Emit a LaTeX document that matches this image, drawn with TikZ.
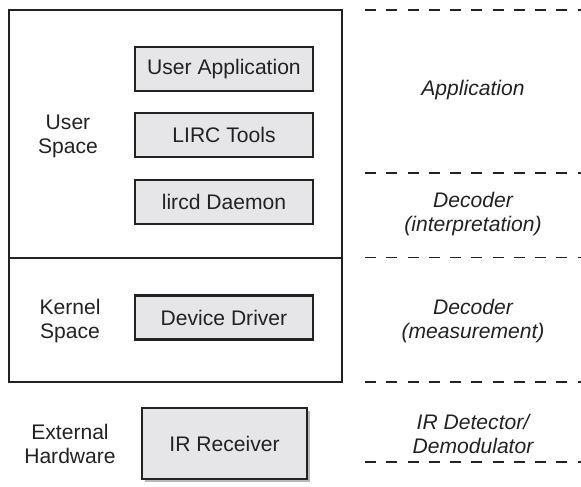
\documentclass[tikz,border=0pt]{standalone}
\usepackage{fontspec}
\setmainfont{Liberation Sans}
\usepackage{xcolor}
\usetikzlibrary{positioning,shadows,backgrounds}
\pgfdeclarelayer{edgelayer}
\pgfdeclarelayer{nodelayer}
\pgfsetlayers{background,edgelayer,nodelayer,main}
\definecolor{ink}{RGB}{34,34,34}
\definecolor{boxgray}{RGB}{230,230,232}
\tikzstyle{none}=[inner sep=0mm]
\tikzstyle{every picture}=[font=\fontsize{12}{13.6}\selectfont,text=ink]
\tikzstyle{box}=[draw=ink,line width=1.4pt,fill=boxgray,minimum width=3.56cm,minimum height=0.88cm,inner sep=0pt]
\tikzstyle{hw}=[box,minimum width=3.3cm,minimum height=1.42cm,drop shadow={shadow xshift=0.06cm,shadow yshift=-0.06cm,fill=black!55}]
\tikzstyle{lbl}=[align=center,inner sep=0pt]
\tikzstyle{layer}=[lbl,font=\fontsize{12}{13.6}\selectfont\itshape]
\tikzstyle{sep}=[draw=ink,line width=1.1pt,dash pattern=on 0.22cm off 0.205cm]
\tikzstyle{frame}=[draw=ink,line width=0.8pt]

\begin{document}
\begin{tikzpicture}
	\useasboundingbox (0, 0) rectangle (11.62, -9.74);
	\begin{pgfonlayer}{nodelayer}
		\node [style=box] (ua) at (4.48, -1.38) {User Application};
		\node [style=box] (lt) at (4.48, -2.7) {LIRC Tools};
		\node [style=box] (ld) at (4.48, -4.04) {lircd Daemon};
		\node [style=box] (dd) at (4.48, -6.35) {Device Driver};
		\node [style=hw] (ir) at (4.49, -8.87) {IR Receiver};
		\node [style=lbl] (us) at (1.36, -2.72) {User\\Space};
		\node [style=lbl] (ks) at (1.4, -6.42) {Kernel\\Space};
		\node [style=lbl] (eh) at (1.4, -8.88) {External\\Hardware};
		\node [style=layer] (app) at (9.46, -1.8) {Application};
		\node [style=layer] (di) at (9.46, -4.28) {Decoder\\(interpretation)};
		\node [style=layer] (dm) at (9.46, -6.42) {Decoder\\(measurement)};
		\node [style=layer] (det) at (9.46, -8.68) {IR Detector/\\Demodulator};
		\node [style=none] (s1a) at (7.3, -0.2) {};
		\node [style=none] (s1b) at (11.62, -0.2) {};
		\node [style=none] (s2a) at (7.3, -3.46) {};
		\node [style=none] (s2b) at (11.62, -3.46) {};
		\node [style=none] (s3a) at (7.3, -5.15) {};
		\node [style=none] (s3b) at (11.62, -5.15) {};
		\node [style=none] (s4a) at (7.3, -7.64) {};
		\node [style=none] (s4b) at (11.62, -7.64) {};
		\node [style=none] (s5a) at (7.3, -9.24) {};
		\node [style=none] (s5b) at (11.62, -9.24) {};
	\end{pgfonlayer}
	\begin{pgfonlayer}{edgelayer}
		\draw [style=frame] (0.18, -0.2) rectangle (6.84, -7.64);
		\draw [style=frame] (0.18, -5.16) -- (6.84, -5.16);
		\draw [style=sep] (s1a.center) to (s1b.center);
		\draw [style=sep] (s2a.center) to (s2b.center);
		\draw [style=sep] (s3a.center) to (s3b.center);
		\draw [style=sep] (s4a.center) to (s4b.center);
		\draw [style=sep] (s5a.center) to (s5b.center);
	\end{pgfonlayer}
\end{tikzpicture}
\end{document}
